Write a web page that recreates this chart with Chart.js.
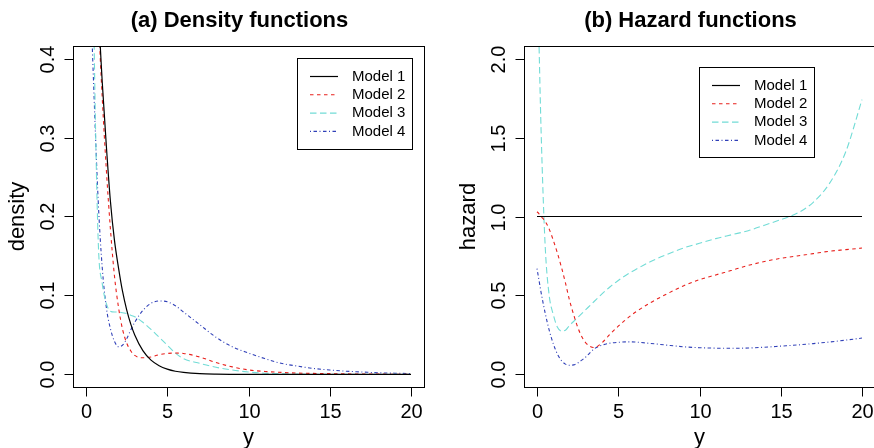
<!DOCTYPE html>
<html>
<head>
<meta charset="utf-8">
<script src="https://cdn.jsdelivr.net/npm/chart.js@4.4.1/dist/chart.umd.min.js"></script>
<style>
  html, body { margin: 0; padding: 0; background: #fff; overflow: hidden; }
  body { width: 874px; height: 448px; position: relative; }
  canvas { position: absolute; top: 0; }
  #densityChart { left: 0; }
  #hazardChart { left: 437px; }
</style>
</head>
<body>
<canvas id="densityChart" width="437" height="448"></canvas>
<canvas id="hazardChart" width="440" height="448"></canvas>
<script>
// Evaluation grid for y
const yGrid = [0, 0.1, 0.25, 0.5, 0.75, 1, 1.25, 1.5, 1.75, 2, 2.25, 2.5, 2.75, 3, 3.5, 4, 4.5,
               5, 5.5, 6, 7, 8, 9, 10, 11, 12, 13, 14, 15, 16, 17, 18, 19, 20];

const modelNames = ['Model 1', 'Model 2', 'Model 3', 'Model 4'];

// Density curves
const density1 = [1.0, 0.905, 0.78, 0.61, 0.47, 0.37, 0.29, 0.22, 0.17, 0.135, 0.105, 0.082, 0.064,
                  0.05, 0.03, 0.018, 0.011, 0.0067, 0.004, 0.0025, 0.0009, 0.0003, 0.0001, 0.00005,
                  0, 0, 0, 0, 0, 0, 0, 0, 0, 0];
const density2 = [1.03, 0.93, 0.8, 0.6, 0.46, 0.35, 0.26, 0.185, 0.125, 0.085, 0.057, 0.04, 0.03,
                  0.024, 0.021, 0.022, 0.025, 0.0265, 0.027, 0.0265, 0.022, 0.015, 0.0095, 0.0057,
                  0.0037, 0.0025, 0.0017, 0.0012, 0.0009, 0.0006, 0.0004, 0.0003, 0.0002, 0.0002];
const density3 = [null, 1.75, 0.85, 0.42, 0.17, 0.115, 0.09, 0.08, 0.079, 0.079, 0.078, 0.077, 0.075,
                  0.073, 0.066, 0.057, 0.047, 0.037, 0.027, 0.02, 0.014, 0.009, 0.0055, 0.003,
                  0.0015, 0.0008, 0.0004, 0.0002, 0.0001, 0, 0, 0, 0, 0];
const density4 = [0.67, 0.6, 0.5, 0.35, 0.22, 0.135, 0.085, 0.058, 0.042, 0.035, 0.037, 0.045, 0.056,
                  0.066, 0.081, 0.09, 0.093, 0.092, 0.087, 0.079, 0.063, 0.047, 0.035, 0.027,
                  0.02, 0.014, 0.0105, 0.0075, 0.0055, 0.004, 0.003, 0.002, 0.0015, 0.001];

// Hazard curves
const hazard1 = yGrid.map(() => 1);
const hazard2 = [1.03, 1.02, 1.0, 0.97, 0.92, 0.85, 0.77, 0.68, 0.58, 0.47, 0.38, 0.3, 0.24,
                 0.2, 0.17, 0.2, 0.255, 0.305, 0.35, 0.39, 0.455, 0.51, 0.56, 0.6,
                 0.63, 0.66, 0.69, 0.715, 0.735, 0.75, 0.765, 0.78, 0.79, 0.8];
const hazard3 = [null, 2.2, 1.55, 0.82, 0.5, 0.38, 0.3, 0.275, 0.28, 0.31, 0.335, 0.36, 0.385,
                 0.41, 0.46, 0.51, 0.555, 0.595, 0.63, 0.66, 0.715, 0.76, 0.8, 0.83,
                 0.86, 0.885, 0.91, 0.945, 0.98, 1.02, 1.09, 1.21, 1.41, 1.74];
const hazard4 = [0.67, 0.61, 0.52, 0.39, 0.28, 0.195, 0.13, 0.088, 0.065, 0.058, 0.06, 0.072, 0.09,
                 0.11, 0.16, 0.185, 0.198, 0.203, 0.206, 0.205, 0.196, 0.185, 0.175, 0.169,
                 0.166, 0.165, 0.167, 0.172, 0.179, 0.186, 0.195, 0.205, 0.217, 0.23];

// Axis ticks
const xTicks = [0, 5, 10, 15, 20];
const densityTicks = [0, 0.1, 0.2, 0.3, 0.4];
const densityTickLabels = ['0.0', '0.1', '0.2', '0.3', '0.4'];
const hazardTicks = [0, 0.5, 1, 1.5, 2];
const hazardTickLabels = ['0.0', '0.5', '1.0', '1.5', '2.0'];

// Line styles (R lty 1, 2, 5, 4)
const lineColors = ['#000000', '#e8201c', '#72dcd6', '#3040b8'];
const lineDashes = [[], [3.5, 3.5], [6.5, 3.5], [1, 2.5, 3.5, 2.5]];
const lineWidths = [1.2, 1.1, 1.1, 1.1];

const FONT = '"Liberation Sans", Arial, Helvetica, sans-serif';

function makeDatasets(series) {
    return series.map((values, i) => ({
        label: modelNames[i],
        data: yGrid.map((x, j) => ({ x: x, y: values[j] })),
        borderColor: lineColors[i],
        borderDash: lineDashes[i],
        borderWidth: lineWidths[i],
        pointRadius: 0,
        fill: false,
        cubicInterpolationMode: 'monotone',
        spanGaps: false
    }));
}

function strokeLine(ctx, x1, y1, x2, y2) {
    ctx.beginPath();
    ctx.moveTo(x1, y1);
    ctx.lineTo(x2, y2);
    ctx.stroke();
}

// Base-graphics style frame: box, outward ticks, rotated y labels, title and legend
const rFrame = {
    id: 'rFrame',
    afterDraw(chart, args, opts) {
        const { ctx, chartArea: a } = chart;
        const xs = chart.scales.x;
        const ys = chart.scales.y;
        const left = Math.round(a.left) + 0.5;
        const bottom = Math.round(a.bottom) + 0.5;

        ctx.save();
        ctx.strokeStyle = '#000';
        ctx.fillStyle = '#000';
        ctx.lineWidth = 1;
        ctx.setLineDash([]);

        ctx.strokeRect(left, Math.round(a.top) + 0.5,
                       Math.round(a.right - a.left), Math.round(a.bottom - a.top));

        ctx.font = '20px ' + FONT;
        ctx.textAlign = 'center';
        ctx.textBaseline = 'middle';

        xTicks.forEach(v => {
            const px = Math.round(xs.getPixelForValue(v)) + 0.5;
            strokeLine(ctx, px, bottom, px, bottom + 9);
            ctx.fillText(String(v), px, bottom + 25);
        });

        opts.ticks.forEach((v, i) => {
            const py = Math.round(ys.getPixelForValue(v)) + 0.5;
            strokeLine(ctx, left - 9, py, left, py);
            ctx.save();
            ctx.translate(left - 25, py);
            ctx.rotate(-Math.PI / 2);
            ctx.fillText(opts.tickLabels[i], 0, 0);
            ctx.restore();
        });

        // axis titles
        ctx.font = '22px ' + FONT;
        ctx.fillText('y', (a.left + a.right) / 2, bottom + 50);
        ctx.save();
        ctx.translate(a.left - 55, (a.top + a.bottom) / 2);
        ctx.rotate(-Math.PI / 2);
        ctx.fillText(opts.yLabel, 0, 0);
        ctx.restore();

        // main title, a little left of the plot centre
        ctx.font = 'bold 22px ' + FONT;
        ctx.fillText(opts.title, (a.left + a.right) / 2 - 9, 21);

        // legend
        const lg = opts.legend;
        ctx.strokeRect(lg.x + 0.5, lg.y + 0.5, lg.w, lg.h);
        ctx.font = '15px ' + FONT;
        ctx.textAlign = 'left';
        chart.data.datasets.forEach((ds, i) => {
            const rowY = lg.y + 18.5 + i * 18.3;
            ctx.save();
            ctx.strokeStyle = ds.borderColor;
            ctx.lineWidth = ds.borderWidth;
            ctx.setLineDash(ds.borderDash);
            strokeLine(ctx, lg.x + 13, rowY, lg.x + 41, rowY);
            ctx.restore();
            ctx.fillText(ds.label, lg.x + 55, rowY);
        });

        ctx.restore();
    }
};

function makeChart(id, series, yMin, yMax, padding, frameOpts) {
    return new Chart(document.getElementById(id), {
        type: 'line',
        data: { datasets: makeDatasets(series) },
        options: {
            responsive: false,
            animation: false,
            layout: { padding: padding },
            scales: {
                x: { type: 'linear', min: -0.8, max: 20.8, display: false },
                y: { type: 'linear', min: yMin, max: yMax, display: false }
            },
            plugins: {
                legend: { display: false },
                tooltip: { enabled: false },
                rFrame: frameOpts
            }
        },
        plugins: [rFrame]
    });
}

makeChart('densityChart', [density1, density2, density3, density4], -0.016, 0.416,
    { left: 73, top: 46, right: 13, bottom: 61 },
    {
        title: '(a) Density functions',
        yLabel: 'density',
        ticks: densityTicks,
        tickLabels: densityTickLabels,
        legend: { x: 297, y: 58, w: 115, h: 91 }
    });

makeChart('hazardChart', [hazard1, hazard2, hazard3, hazard4], -0.08, 2.08,
    { left: 87, top: 46, right: 2, bottom: 61 },
    {
        title: '(b) Hazard functions',
        yLabel: 'hazard',
        ticks: hazardTicks,
        tickLabels: hazardTickLabels,
        legend: { x: 262, y: 67, w: 115, h: 90 }
    });
</script>
</body>
</html>
